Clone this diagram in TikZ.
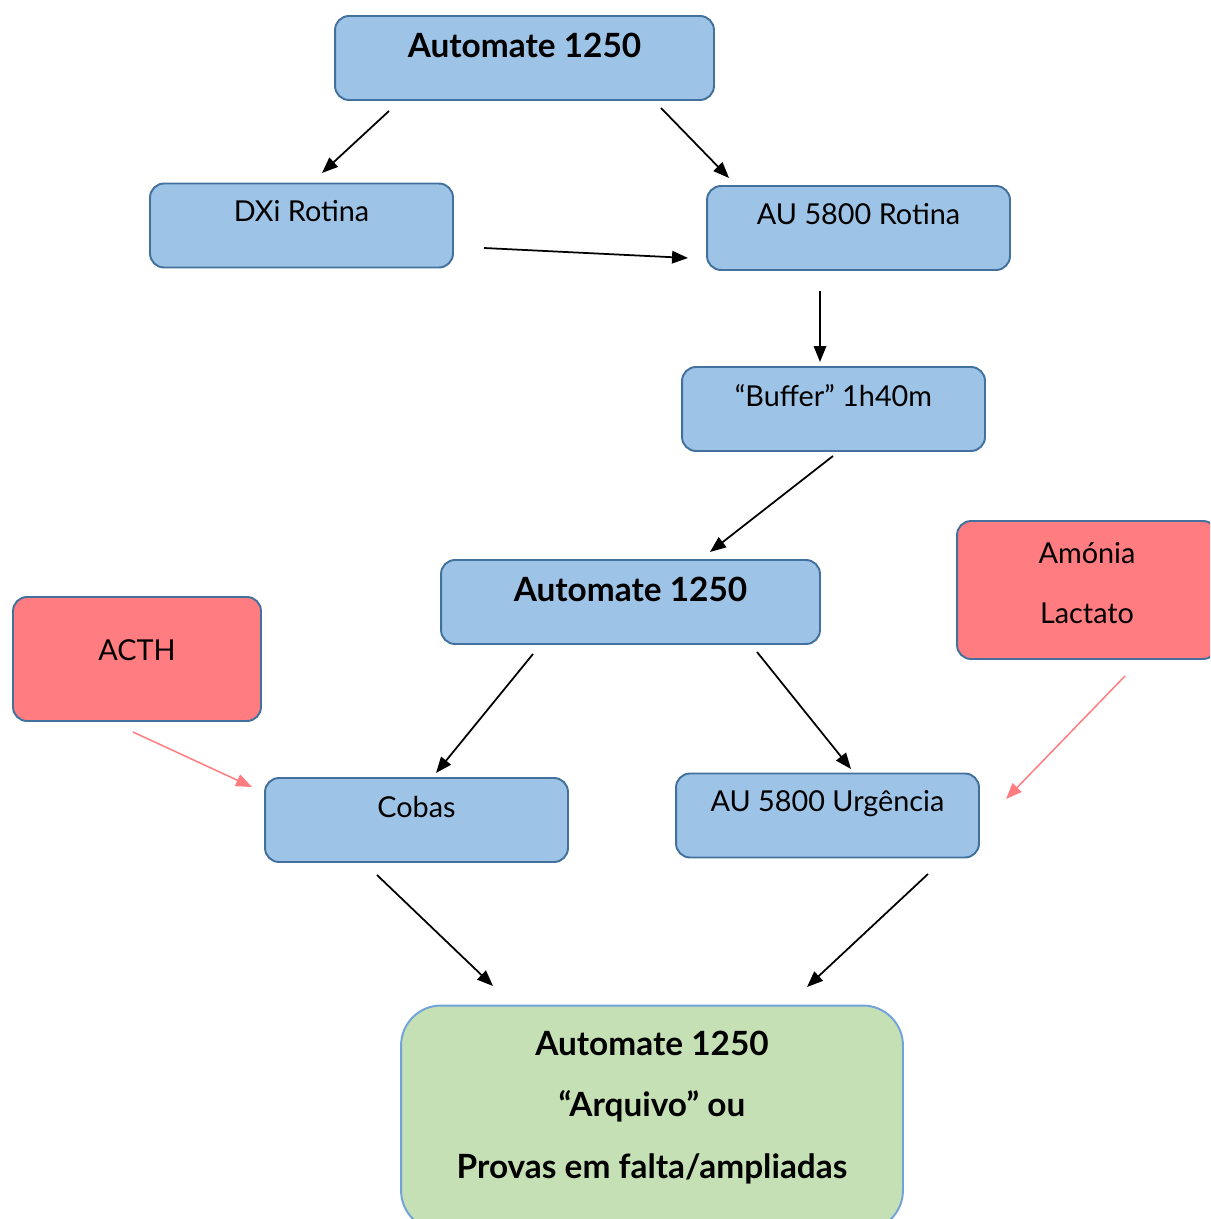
\documentclass[tikz,border=0pt]{standalone}
\usepackage{fontspec}
\setmainfont{Lato}
\usetikzlibrary{arrows.meta, positioning, calc}
\definecolor{boxblue}{HTML}{9DC3E6}
\definecolor{edgeblue}{HTML}{41719C}
\definecolor{boxred}{HTML}{FF7C80}
\definecolor{boxgreen}{HTML}{C5E0B4}
\definecolor{edgelight}{HTML}{6FA3DA}

\begin{document}
\begin{tikzpicture}[x=0.02cm, y=-0.02cm,
  box/.style={draw=edgeblue, line width=1.1pt, fill=boxblue, rounded corners=0.28cm,
    minimum width=6.06cm, minimum height=1.68cm, inner sep=0pt},
  redbox/.style={box, fill=boxred},
  lbl/.style={font=\fontsize{16.4}{19}\selectfont, align=center},
  blbl/.style={font=\fontsize{19}{22}\selectfont\bfseries, align=center},
  arr/.style={-{Triangle[length=0.32cm,width=0.25cm]}, line width=1pt},
  redarr/.style={arr, draw=boxred, line width=0.85pt}]
\useasboundingbox (0,0) rectangle (1210,1219);
\clip (0,0) rectangle (1210,1219);

\node[box, minimum width=7.58cm] (a1) at (524.5,58) {};
\node[blbl] at ([yshift=-0.6cm]a1.north) {Automate 1250};
\node[box] (dxi) at (301.5,225.5) {};
\node[lbl] at ([yshift=-0.58cm]dxi.north) {DXi Rotina};
\node[box] (aurot) at (858.5,228) {};
\node[lbl] at ([yshift=-0.58cm]aurot.north) {AU 5800 Rotina};
\node[box] (buf) at (833.5,409) {};
\node[lbl] at ([yshift=-0.6cm]buf.north) {“Buffer” 1h40m};
\node[box, minimum width=7.58cm] (a2) at (630.5,602) {};
\node[blbl] at ([yshift=-0.6cm]a2.north) {Automate 1250};
\node[redbox, minimum width=5.2cm, minimum height=2.76cm] (amon) at (1087,590) {};
\node[lbl, font=\fontsize{16.4}{34}\selectfont] at ([yshift=-1.26cm]amon.north) {Amónia\\Lactato};
\node[redbox, minimum width=4.96cm, minimum height=2.48cm] (acth) at (137,659) {};
\node[lbl] at ([yshift=-1.08cm]acth.north) {ACTH};
\node[box] (cobas) at (416.5,820) {};
\node[lbl] at ([yshift=-0.6cm]cobas.north) {Cobas};
\node[box] (urg) at (827.5,815.5) {};
\node[lbl] at ([yshift=-0.62cm]urg.north) {AU 5800 Urgência};
\node[box, draw=edgelight, fill=boxgreen, rounded corners=0.8cm,
  minimum width=10.04cm, minimum height=4.5cm] (fin) at (652,1118) {};
\node[blbl, font=\fontsize{19}{35}\selectfont\bfseries, anchor=north]
  at ([yshift=-0.4cm]fin.north) {Automate 1250\\“Arquivo” ou\\Provas em falta/ampliadas};

\coordinate (a1-l) at (389,111);
\coordinate (a1-r) at (661,108);
\coordinate (dxi-t) at (322,173);
\coordinate (dxi-r) at (484,248);
\coordinate (aurot-t) at (729,178);
\coordinate (aurot-l) at (688,258);
\coordinate (aurot-b) at (820,291);
\coordinate (buf-t) at (820,362);
\coordinate (buf-b) at (833,456);
\coordinate (a2-t) at (710,552);
\coordinate (a2-l) at (533,654);
\coordinate (a2-r) at (757,652);
\coordinate (cobas-t) at (436,773);
\coordinate (urg-t) at (851,769);
\coordinate (acth-b) at (133,732);
\coordinate (cobas-l) at (252,787);
\coordinate (amon-b) at (1125,676);
\coordinate (urg-r) at (1006,799);
\coordinate (cobas-b) at (377,875);
\coordinate (urg-b) at (928,874);
\coordinate (fin-l) at (493,986);
\coordinate (fin-r) at (807,987);

\draw[arr] (a1-l) -- (dxi-t);
\draw[arr] (a1-r) -- (aurot-t);
\draw[arr] (dxi-r) -- (aurot-l);
\draw[arr] (aurot-b) -- (buf-t);
\draw[arr] (buf-b) -- (a2-t);
\draw[arr] (a2-l) -- (cobas-t);
\draw[arr] (a2-r) -- (urg-t);
\draw[redarr] (acth-b) -- (cobas-l);
\draw[redarr] (amon-b) -- (urg-r);
\draw[arr] (cobas-b) -- (fin-l);
\draw[arr] (urg-b) -- (fin-r);
\end{tikzpicture}
\end{document}
